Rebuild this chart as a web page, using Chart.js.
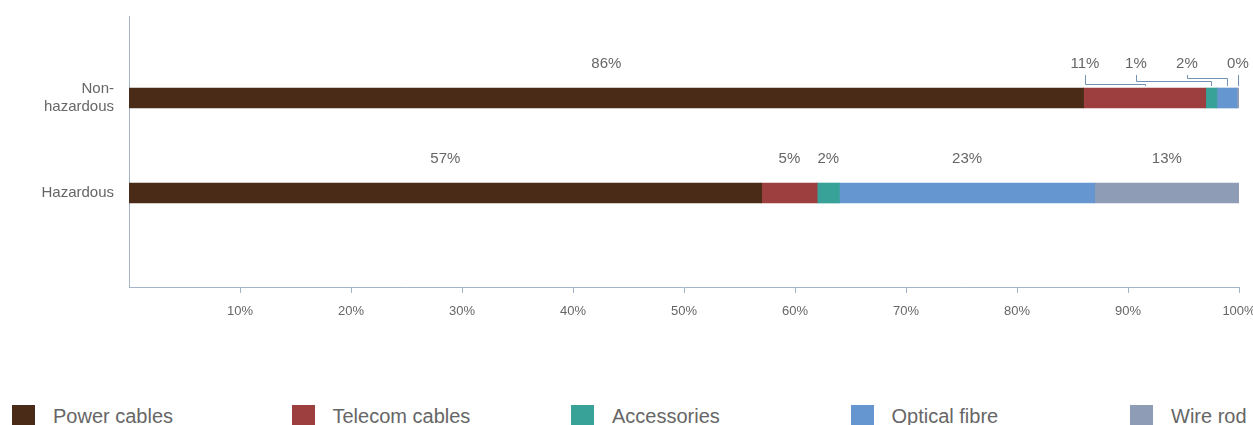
<!DOCTYPE html>
<html>
<head>
<meta charset="utf-8">
<script src="https://cdn.jsdelivr.net/npm/chart.js@4.4.0/dist/chart.umd.min.js"></script>
<style>
    body { margin: 0; width: 1253px; height: 425px; overflow: hidden; background: #fff; position: relative; font-family: "Liberation Sans", Arial, sans-serif; }
    #wrap { position: absolute; left: 0; top: 0; width: 1253px; height: 327px; }
    #legenda { position: absolute; left: 0; top: 405px; width: 1253px; height: 30px; }
    .item { position: absolute; top: 0; display: flex; align-items: flex-start; white-space: nowrap; font-size: 20px; line-height: 23px; color: #666; }
    .item .caixa { width: 23px; height: 23px; margin-right: 18px; }
</style>
</head>
<body>
<div id="wrap"><canvas id="grafico"></canvas></div>
<div id="legenda"></div>
<script>
// Categorias do eixo Y e participação (%) de cada tipo de cabo
const categorias = ['Non-hazardous', 'Hazardous'];
const series = ['Power cables', 'Telecom cables', 'Accessories', 'Optical fibre', 'Wire rod'];
const powerCables = [86, 57];
const telecomCables = [11, 5];
const accessories = [1, 2];
const opticalFibre = [1.8, 23];
const wireRod = [0.2, 13];
const ticksX = [10, 20, 30, 40, 50, 60, 70, 80, 90, 100];

const valores = [powerCables, telecomCables, accessories, opticalFibre, wireRod];
const cores = ['#4a2b17', '#9d3f3f', '#38a298', '#6596cf', '#8e9db5'];
const corEixo = '#a3b4c8';
const corTexto = '#666';

Chart.defaults.font.family = '"Liberation Sans", Arial, sans-serif';

// Quebra "Non-hazardous" em duas linhas depois do hífen
function quebra(txt) {
    const i = txt.indexOf('-');
    return i > 0 ? [txt.slice(0, i + 1), txt.slice(i + 1)] : txt;
}

// Rótulos de % acima das barras (com linhas de chamada quando não cabem)
const rotulos = {
    id: 'rotulos',
    afterDatasetsDraw(chart) {
        const ctx = chart.ctx;
        ctx.save();
        ctx.font = '15px "Liberation Sans", Arial, sans-serif';
        ctx.fillStyle = corTexto;
        ctx.textAlign = 'center';
        ctx.textBaseline = 'middle';
        categorias.forEach((cat, i) => {
            const segs = chart.data.datasets.map((ds, d) => {
                const el = chart.getDatasetMeta(d).data[i];
                const esq = Math.min(el.base, el.x);
                const dir = Math.max(el.base, el.x);
                const texto = Math.round(ds.data[i].x) + '%';
                return {
                    texto: texto,
                    centro: (esq + dir) / 2,
                    largura: dir - esq,
                    w: ctx.measureText(texto).width,
                    topo: el.y - el.height / 2,
                    y: el.y
                };
            });
            const yTexto = segs[0].y - 34;
            const apertado = segs.some(s => s.largura < s.w);
            if (!apertado) {
                segs.forEach(s => ctx.fillText(s.texto, s.centro, yTexto));
                return;
            }
            ctx.fillText(segs[0].texto, segs[0].centro, yTexto);
            const resto = segs.slice(1);
            const ultimo = resto[resto.length - 1].centro;
            ctx.strokeStyle = '#7391b5';
            ctx.lineWidth = 1;
            resto.forEach((s, k) => {
                const x = ultimo - (resto.length - 1 - k) * 51;
                ctx.fillText(s.texto, x, yTexto);
                const xa = Math.round(x) + 0.5;
                const xb = Math.round(s.centro) + 0.5;
                const yc = Math.round(s.topo - 4 - k * 3) + 0.5;
                ctx.beginPath();
                ctx.moveTo(xa, yTexto + 11);
                if (Math.abs(xa - xb) > 2) {
                    ctx.lineTo(xa, yc);
                    ctx.lineTo(xb, yc);
                }
                ctx.lineTo(xb, s.topo - 2);
                ctx.stroke();
            });
        });
        ctx.restore();
    }
};

const data = {
    datasets: series.map((nome, d) => ({
        label: nome,
        data: valores[d].map((v, i) => ({ x: v, y: i })),
        backgroundColor: cores[d],
        borderWidth: 0,
        barThickness: 20
    }))
};

const config = {
    type: 'bar',
    data: data,
    options: {
        indexAxis: 'y',
        responsive: true,
        maintainAspectRatio: false,
        animation: false,
        layout: { padding: { top: 16, right: 14, left: 0, bottom: 0 } },
        plugins: { legend: { display: false }, tooltip: { enabled: false } },
        scales: {
            x: {
                type: 'linear',
                min: 0,
                max: 100,
                stacked: true,
                afterBuildTicks: s => { s.ticks = ticksX.map(v => ({ value: v })); },
                afterFit: s => { s.height = 40; s.paddingLeft = 0; s.paddingRight = 0; },
                ticks: { callback: v => v + '%', color: corTexto, font: { size: 13 }, padding: 11, maxRotation: 0, autoSkip: false },
                grid: { display: true, drawOnChartArea: false, drawTicks: true, tickLength: 6, color: corEixo },
                border: { display: true, color: corEixo }
            },
            y: {
                type: 'linear',
                reverse: true,
                offset: false,
                bounds: 'data',
                min: -0.863,
                max: 1.989,
                stacked: true,
                afterBuildTicks: s => { s.ticks = categorias.map((c, i) => ({ value: i })); },
                afterFit: s => { s.width = 129; s.paddingTop = 0; s.paddingBottom = 0; },
                ticks: { callback: v => quebra(categorias[v]), color: corTexto, font: { size: 15 }, padding: 15, autoSkip: false },
                grid: { display: true, offset: false, drawOnChartArea: false, drawTicks: false, color: corEixo },
                border: { display: true, color: corEixo }
            }
        }
    },
    plugins: [rotulos]
};

new Chart(document.getElementById('grafico').getContext('2d'), config);

// Legenda em HTML, itens com largura fixa
const legenda = document.getElementById('legenda');
series.forEach((nome, d) => {
    const item = document.createElement('div');
    item.className = 'item';
    item.style.left = (12 + d * 279.5) + 'px';
    item.innerHTML = '<span class="caixa" style="background:' + cores[d] + '"></span><span>' + nome + '</span>';
    legenda.appendChild(item);
});
</script>
</body>
</html>
